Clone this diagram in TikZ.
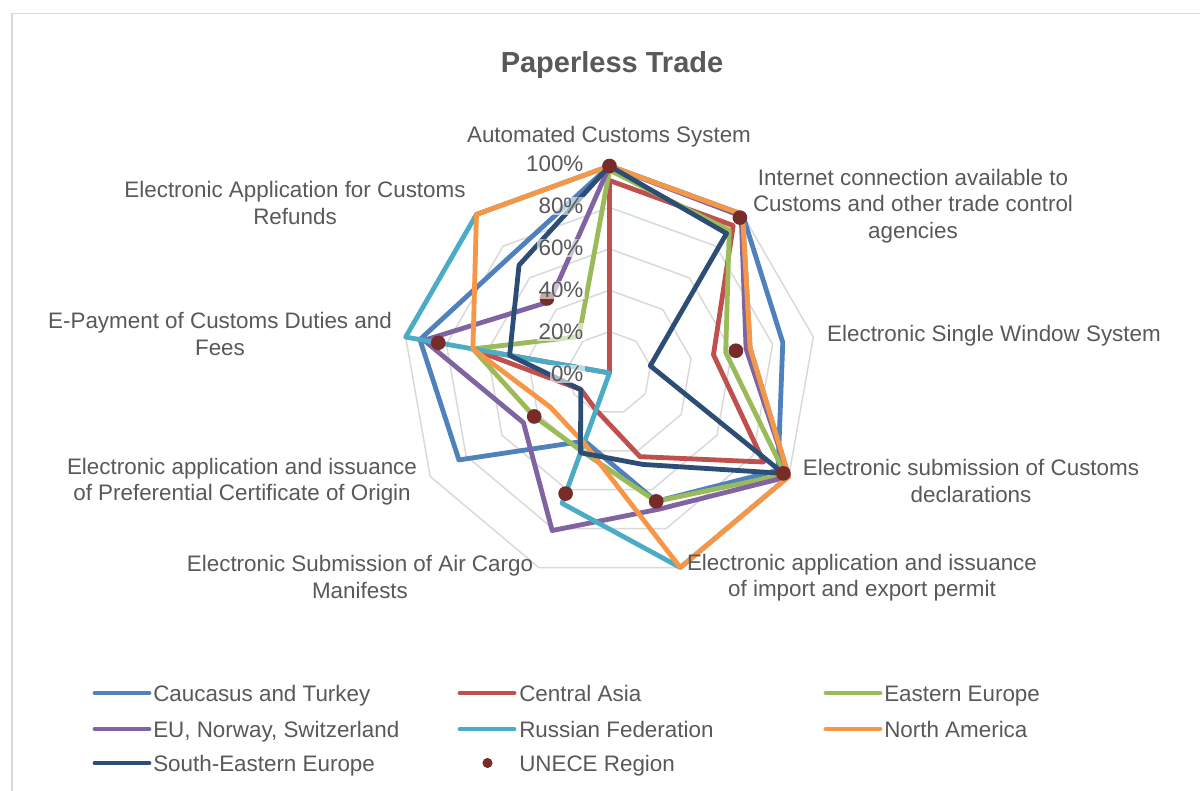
\documentclass[tikz,border=0pt]{standalone}
\usepackage{fontspec}
\setmainfont{Liberation Sans}
\definecolor{cCau}{HTML}{4F81BD}
\definecolor{cCA}{HTML}{C0504D}
\definecolor{cEE}{HTML}{9BBB59}
\definecolor{cEU}{HTML}{8064A2}
\definecolor{cRF}{HTML}{4BACC6}
\definecolor{cNA}{HTML}{F79646}
\definecolor{cSEE}{HTML}{2C4D75}
\definecolor{cUN}{HTML}{772C2A}
\definecolor{txtgray}{HTML}{595959}
\definecolor{gridgray}{HTML}{D9D9D9}
\tikzset{
  ser/.style={line width=3.6pt, line join=round},
  gridring/.style={draw=gridgray, line width=1.1pt},
  lbl/.style={text=txtgray, font=\fontsize{16.8pt}{19.8pt}\selectfont, align=center, inner sep=0pt},
  leglbl/.style={lbl, anchor=base west},
  vlbl/.style={lbl, fill=white, fill opacity=0.6, text opacity=1, inner sep=1pt, anchor=east},
  legline/.style={line width=3.6pt, line cap=round},
  dotmark/.style={fill=cUN},
}
\begin{document}
\begin{tikzpicture}[x=0.75pt,y=-0.75pt]
\fill[white] (0,0) rectangle (1200,791);
\useasboundingbox (0,0) rectangle (1200,791);
\draw[gridgray, line width=1.1pt] (12,791) -- (12,13.5) -- (1200,13.5);
% grid rings
\foreach \r in {0.2,0.4,0.6,0.8,1.0}
  \draw[gridring] plot[samples at={0,40,...,320}] ({609.5+207*\r*cos(90-\x)},{373-207*\r*sin(90-\x)}) -- cycle;
% data points
\foreach \n/\vals in {
  cau/{1.0,1.0,0.85,0.94,0.66,0.35,0.84,0.93,0.74},
  ca/{0.93,0.93,0.51,0.86,0.43,0.19,0.16,0.68,0},
  ee/{0.98,0.9,0.57,0.98,0.66,0.4,0.42,0.67,0.23},
  eu/{1.0,0.99,0.67,1.0,0.7,0.81,0.48,0.91,0.45},
  rf/{1.0,1.0,0.69,1.0,1.0,0.67,0,1.0,1.0},
  na/{1.0,1.0,0.69,1.0,1.0,0.36,0.33,0.67,1.0},
  see/{1.0,0.88,0.2,0.97,0.47,0.41,0.16,0.49,0.68},
  un/{1.0,0.98,0.62,0.97,0.66,0.62,0.42,0.84,0.47}}
{
  \foreach \v [count=\k from 0] in \vals {
    \coordinate (\n\k) at ({609.5+207*\v*cos(90-40*\k)},{373-207*\v*sin(90-40*\k)});
  }
}
\draw[ser, cCau] (cau0) \foreach \k in {1,...,8}{-- (cau\k)} -- cycle;
\draw[ser, cCA] (ca0) \foreach \k in {1,...,8}{-- (ca\k)} -- cycle;
\draw[ser, cEE] (ee0) \foreach \k in {1,...,8}{-- (ee\k)} -- cycle;
\draw[ser, cEU] (eu0) \foreach \k in {1,...,8}{-- (eu\k)} -- cycle;
\draw[ser, cRF] (rf0) \foreach \k in {1,...,8}{-- (rf\k)} -- cycle;
\draw[ser, cNA] (na0) \foreach \k in {1,...,8}{-- (na\k)} -- cycle;
\draw[ser, cSEE] (see0) \foreach \k in {1,...,8}{-- (see\k)} -- cycle;
\foreach \k in {0,...,8} \fill[dotmark] (un\k) circle (5.5pt);
% value labels
\node[vlbl] (v100) at (585,164) {100\%};
\node[vlbl] (v80) at (585,206) {80\%};
\node[vlbl] (v60) at (585,248) {60\%};
\node[vlbl] (v40) at (585,290) {40\%};
\node[vlbl] (v20) at (585,332) {20\%};
\node[vlbl] (v0) at (585,374) {0\%};
% axis labels
\node[lbl] (a0) at (609,137) {Automated Customs System};
\node[lbl] (a1) at (913,206) {Internet connection available to\\Customs and other trade control\\agencies};
\node[lbl] (a2) at (994,336) {Electronic Single Window System};
\node[lbl] (a3) at (971,481) {Electronic submission of Customs\\declarations};
\node[lbl] (a4) at (862,578) {Electronic application and issuance\\of import and export permit};
\node[lbl] (a5) at (360,577) {Electronic Submission of Air Cargo\\Manifests};
\node[lbl] (a6) at (242,482) {Electronic application and issuance\\of Preferential Certificate of Origin};
\node[lbl] (a7) at (220,334) {E-Payment of Customs Duties and\\Fees};
\node[lbl] (a8) at (295,203) {Electronic Application for Customs\\Refunds};
% title
\node[text=txtgray, font=\bfseries\fontsize{21.75pt}{26pt}\selectfont] (title) at (612,65) {Paperless Trade};
% legend
\draw[legline, cCau] (95,693) -- (149,693);
\node[leglbl] (lg1) at (153,701) {Caucasus and Turkey};
\draw[legline, cCA] (460,693) -- (514,693);
\node[leglbl] (lg2) at (519,701) {Central Asia};
\draw[legline, cEE] (826,693) -- (880,693);
\node[leglbl] (lg3) at (884,701) {Eastern Europe};
\draw[legline, cEU] (95,729) -- (149,729);
\node[leglbl] (lg4) at (153,737) {EU, Norway, Switzerland};
\draw[legline, cRF] (460,729) -- (514,729);
\node[leglbl] (lg5) at (519,737) {Russian Federation};
\draw[legline, cNA] (826,729) -- (880,729);
\node[leglbl] (lg6) at (884,737) {North America};
\draw[legline, cSEE] (95,763) -- (149,763);
\node[leglbl] (lg7) at (153,771) {South-Eastern Europe};
\fill[dotmark] (487.5,763) circle (3.8pt);
\node[leglbl] (lg8) at (519,771) {UNECE Region};
\end{tikzpicture}
\end{document}
